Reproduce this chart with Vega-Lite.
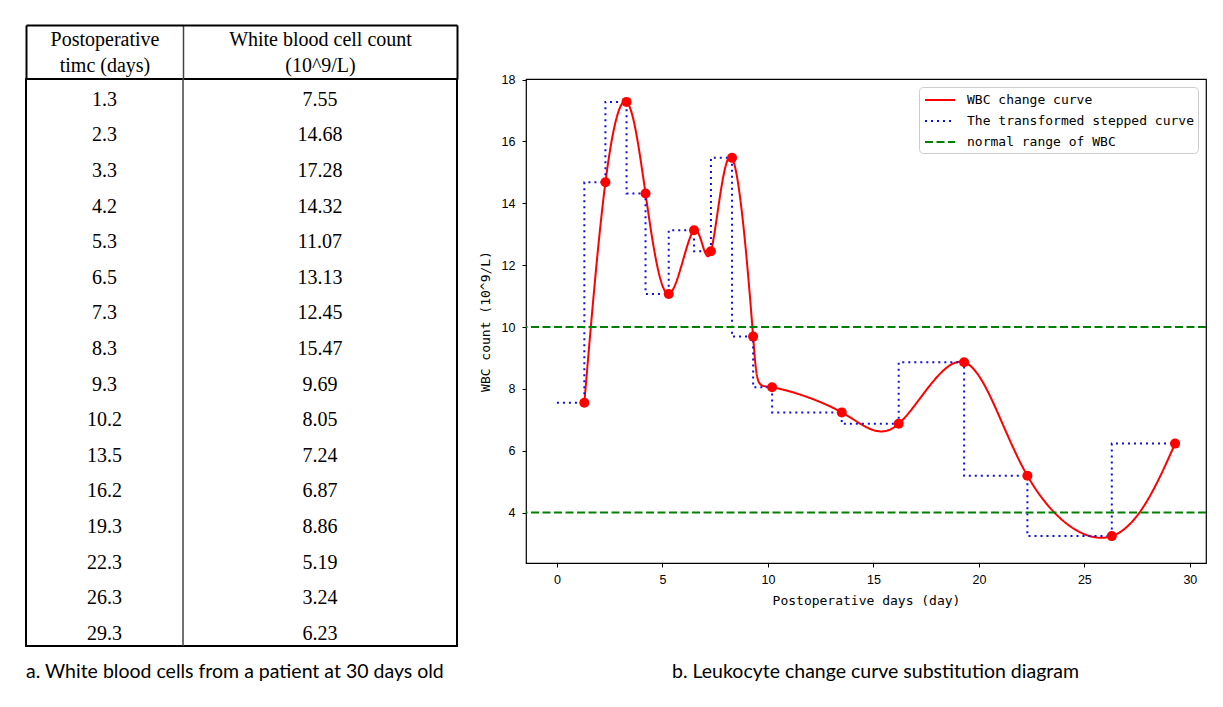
{
  "$schema": "https://vega.github.io/schema/vega-lite/v6.json",
  "background": "white",
  "padding": {"left": 24, "top": 23, "right": 0, "bottom": 0},
  "spacing": 19,
  "resolve": {
    "scale": {"color": "independent", "strokeDash": "independent"},
    "legend": {"color": "independent", "strokeDash": "independent"}
  },
  "config": {
    "view": {"stroke": "black"},
    "axis": {"labelColor": "black", "titleColor": "black", "tickColor": "black", "domainColor": "black", "grid": false},
    "title": {"color": "black"},
    "legend": {
      "orient": "top-right", "offset": 8, "fillColor": "white", "strokeColor": "#cccccc", "cornerRadius": 4,
      "padding": 4, "labelFont": "DejaVu Sans Mono", "labelFontSize": 13, "labelColor": "black", "labelLimit": 400,
      "symbolType": "M-1.875,0L1.875,0", "symbolSize": 256, "symbolOffset": 8, "symbolStrokeWidth": 2,
      "rowPadding": 5, "labelOffset": 18
    }
  },
  "datasets": {
    "wbc": [
      {"day": 1.3, "count": 7.55},
      {"day": 2.3, "count": 14.68},
      {"day": 3.3, "count": 17.28},
      {"day": 4.2, "count": 14.32},
      {"day": 5.3, "count": 11.07},
      {"day": 6.5, "count": 13.13},
      {"day": 7.3, "count": 12.45},
      {"day": 8.3, "count": 15.47},
      {"day": 9.3, "count": 9.69},
      {"day": 10.2, "count": 8.05},
      {"day": 13.5, "count": 7.24},
      {"day": 16.2, "count": 6.87},
      {"day": 19.3, "count": 8.86},
      {"day": 22.3, "count": 5.19},
      {"day": 26.3, "count": 3.24},
      {"day": 29.3, "count": 6.23}
    ],
    "step": [
      {"day": 0, "count": 7.55},
      {"day": 1.3, "count": 14.68},
      {"day": 2.3, "count": 17.28},
      {"day": 3.3, "count": 14.32},
      {"day": 4.2, "count": 11.07},
      {"day": 5.3, "count": 13.13},
      {"day": 6.5, "count": 12.45},
      {"day": 7.3, "count": 15.47},
      {"day": 8.3, "count": 9.69},
      {"day": 9.3, "count": 8.05},
      {"day": 10.2, "count": 7.24},
      {"day": 13.5, "count": 6.87},
      {"day": 16.2, "count": 8.86},
      {"day": 19.3, "count": 5.19},
      {"day": 22.3, "count": 3.24},
      {"day": 26.3, "count": 6.23},
      {"day": 29.3, "count": 6.23}
    ],
    "limits": [{"limit": 10}, {"limit": 4}]
  },
  "hconcat": [
    {
      "width": 431, "height": 567,
      "view": {"stroke": "black", "strokeWidth": 2},
      "title": {"text": "a.  White blood cells from a patient at 30 days old", "orient": "bottom", "anchor": "start", "frame": "group", "font": "Lato", "fontSize": 19.5, "fontWeight": "normal", "offset": 16},
      "resolve": {"axis": {"x": "independent"}},
      "layer": [
        {
          "data": {"name": "wbc"},
          "mark": {"type": "text", "font": "Liberation Serif", "fontSize": 20, "dy": 4.3, "color": "black"},
          "encoding": {
            "x": {"datum": 18.21, "type": "quantitative", "scale": {"domain": [0, 100]},
              "axis": {"orient": "top", "values": [18.21, 68.21],
                "labelExpr": "datum.value < 50 ? ['Postoperative', 'timc (days)'] : ['White blood cell count', '(10^9/L)']",
                "ticks": false, "tickSize": 0, "domain": false, "grid": false, "labelPadding": 33.5, "labelBaseline": "alphabetic",
                "labelLineHeight": 26, "labelFont": "Liberation Serif", "labelFontSize": 20, "labelColor": "black", "labelLimit": 400,
                "labelOverlap": false, "labelFlush": false, "labelAngle": 0, "labelAlign": "center", "title": null}},
            "y": {"field": "day", "type": "ordinal", "scale": {"padding": 0.464}, "axis": null},
            "text": {"field": "day", "type": "quantitative", "format": ".1f"}
          }
        },
        {
          "data": {"name": "wbc"},
          "mark": {"type": "text", "font": "Liberation Serif", "fontSize": 20, "dy": 4.3, "color": "black"},
          "encoding": {
            "x": {"datum": 68.21, "type": "quantitative", "scale": {"domain": [0, 100]},
              "axis": {"orient": "top", "values": [0, 36.43, 100], "labels": false, "domain": false, "grid": false, "title": null,
                "ticks": true, "tickSize": 54,
                "tickWidth": {"condition": {"test": "datum.value > 1 && datum.value < 99", "value": 1.5}, "value": 2},
                "tickColor": {"condition": {"test": "datum.value > 1 && datum.value < 99", "value": "#444444"}, "value": "black"}}},
            "y": {"field": "day", "type": "ordinal", "axis": null},
            "text": {"field": "count", "type": "quantitative", "format": ".2f"}
          }
        },
        {
          "data": {"values": [{}]},
          "mark": {"type": "rule", "color": "#444444", "strokeWidth": 1.5},
          "encoding": {
            "x": {"datum": 36.43, "type": "quantitative", "scale": {"domain": [0, 100]},
              "axis": {"orient": "top", "offset": 54, "domain": true, "domainWidth": 2, "domainColor": "black", "ticks": false, "labels": false, "grid": false, "title": null}}
          }
        }
      ]
    },
    {
      "width": 680, "height": 484,
      "view": {"stroke": "black", "strokeWidth": 1.2},
      "title": {"text": "b.  Leukocyte change curve substitution diagram", "orient": "bottom", "anchor": "start", "frame": "group", "dx": 146, "offset": 55, "font": "Lato", "fontSize": 19.5, "fontWeight": "normal"},
      "layer": [
        {
          "data": {"name": "wbc"},
          "mark": {"type": "line", "interpolate": "natural", "strokeWidth": 2},
          "encoding": {
            "x": {"field": "day", "type": "quantitative", "scale": {"domain": [-1.465, 30.765], "nice": false, "zero": false},
              "axis": {"orient": "bottom", "values": [0, 5, 10, 15, 20, 25, 30], "domain": false, "tickSize": 4, "labelPadding": 6, "labelFont": "Liberation Sans", "labelFontSize": 12.5, "title": "Postoperative days (day)", "titleFont": "DejaVu Sans Mono", "titleFontSize": 13, "titleFontWeight": "normal", "titlePadding": 9}},
            "y": {"field": "count", "type": "quantitative", "title": "WBC count (10^9/L)", "scale": {"domain": [2.37, 18.02], "nice": false, "zero": false},
              "axis": {"values": [4, 6, 8, 10, 12, 14, 16, 18], "domain": false, "tickSize": 4, "labelPadding": 7, "labelFont": "Liberation Sans", "labelFontSize": 12.5, "titleFont": "DejaVu Sans Mono", "titleFontSize": 13, "titleFontWeight": "normal", "minExtent": 24, "maxExtent": 24, "titlePadding": 10}},
            "color": {"datum": "WBC change curve", "type": "nominal", "title": null,
              "scale": {"domain": ["WBC change curve", "The transformed stepped curve", "normal range of WBC"], "range": ["#ff0000", "#1010dd", "#008000"]}},
            "strokeDash": {"datum": "WBC change curve", "type": "nominal", "title": null,
              "scale": {"domain": ["WBC change curve", "The transformed stepped curve", "normal range of WBC"], "range": [[1, 0], [2, 4], [8, 3.5]]}}
          }
        },
        {
          "data": {"name": "step"},
          "mark": {"type": "line", "interpolate": "step-after", "strokeWidth": 2},
          "encoding": {
            "x": {"field": "day", "type": "quantitative"},
            "y": {"field": "count", "type": "quantitative", "title": "WBC count (10^9/L)"},
            "color": {"datum": "The transformed stepped curve", "type": "nominal", "title": null},
            "strokeDash": {"datum": "The transformed stepped curve", "type": "nominal", "title": null}
          }
        },
        {
          "data": {"name": "limits"},
          "mark": {"type": "rule", "strokeWidth": 2},
          "encoding": {
            "y": {"field": "limit", "type": "quantitative", "title": "WBC count (10^9/L)"},
            "color": {"datum": "normal range of WBC", "type": "nominal", "title": null},
            "strokeDash": {"datum": "normal range of WBC", "type": "nominal", "title": null}
          }
        },
        {
          "data": {"name": "wbc"},
          "mark": {"type": "circle", "size": 100, "color": "#ff0000", "opacity": 1},
          "encoding": {
            "x": {"field": "day", "type": "quantitative"},
            "y": {"field": "count", "type": "quantitative", "title": "WBC count (10^9/L)"}
          }
        }
      ]
    }
  ]
}
